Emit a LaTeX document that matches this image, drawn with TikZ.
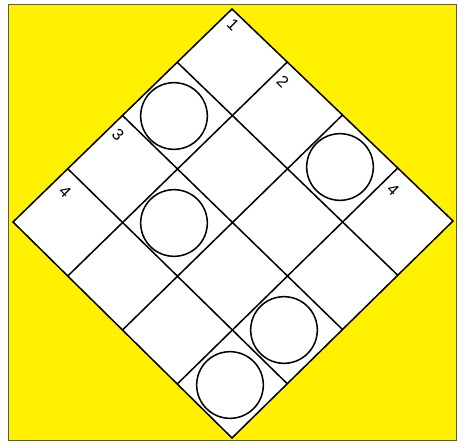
\documentclass[tikz,border=0pt]{standalone}
\usepackage{fontspec}
\setsansfont{Liberation Sans}
\definecolor{board}{RGB}{255,241,0}
\definecolor{frameline}{RGB}{90,90,80}
\tikzset{
  grid line/.style={line width=1.3pt,line join=miter},
  stone/.style={circle,draw,line width=1.3pt,minimum size=2.0cm,inner sep=0pt},
  corner/.style={font=\sffamily\fontsize{14}{14}\selectfont,inner sep=0pt}
}
\begin{document}
\begin{tikzpicture}[x=.03cm,y=-.03cm]
  \useasboundingbox (0,0) rectangle (463,445);
  % board
  \draw[frameline,line width=.7pt,fill=board] (8,4) rectangle (456,440);
  \coordinate (T) at (232,9);
  \coordinate (R) at (453,221);
  \coordinate (B) at (232,438);
  \coordinate (L) at (13,222);
  \fill[white] (T)--(R)--(B)--(L)--cycle;
  % points on the edges
  \coordinate (tl1) at (177.25,62.25);
  \coordinate (tl2) at (122.5,115.5);
  \coordinate (tl3) at (67.75,168.75);
  \coordinate (rb1) at (397.75,275.25);
  \coordinate (rb2) at (342.5,329.5);
  \coordinate (rb3) at (287.25,383.75);
  \coordinate (tr1) at (287.25,62);
  \coordinate (tr2) at (342.5,115);
  \coordinate (tr3) at (397.75,168);
  \coordinate (lb1) at (67.75,276);
  \coordinate (lb2) at (122.5,330);
  \coordinate (lb3) at (177.25,384);
  \draw[grid line] (tl1)--(rb1); \draw[grid line] (tl2)--(rb2); \draw[grid line] (tl3)--(rb3);
  \draw[grid line] (tr1)--(lb1); \draw[grid line] (tr2)--(lb2); \draw[grid line] (tr3)--(lb3);
  \draw[grid line] (T)--(R)--(B)--(L)--cycle;
  % stones
  \node[stone] (s1) at (174,116) {};
  \node[stone] (s2) at (340,167) {};
  \node[stone] (s3) at (174,223) {};
  \node[stone] (s4) at (284,330) {};
  \node[stone] (s5) at (230,385) {};
  % numbers
  \node[corner,rotate=-45] (n1) at (233,25) {1};
  \node[corner,rotate=-45] (n2) at (283,82) {2};
  \node[corner,rotate=-45] (n3) at (118,135) {3};
  \node[corner,rotate=-45] (n4) at (65,192) {4};
  \node[corner,rotate=-45] (n5) at (393,190) {4};
\end{tikzpicture}
\end{document}
